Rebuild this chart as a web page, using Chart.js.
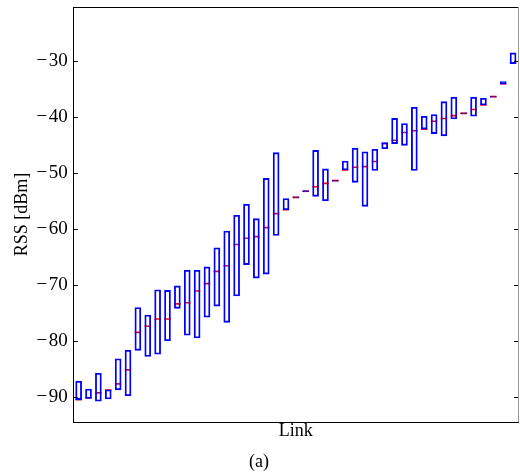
<!DOCTYPE html>
<html>
<head>
<meta charset="utf-8">
<script src="https://cdn.jsdelivr.net/npm/chart.js@4"></script>
<style>
  body { margin: 0; background: #fff; }
  canvas { display: block; }
</style>
</head>
<body>
<canvas id="myChart" width="520" height="474"></canvas>
<script>
// box data per link: upper quartile, median, lower quartile (dBm)
const links = [];
for (let i = 1; i <= 45; i++) links.push(String(i));

const q3 = [-87.2, -88.6, -85.8, -88.75, -83.2, -81.7, -74.05, -75.4, -70.9, -71.0,
            -70.2, -67.4, -67.4, -66.8, -63.4, -60.4, -57.6, -55.6, -58.2, -51.0,
            -46.4, -54.6, -54.3, -53.2, -46.0, -49.3, -51.3, -47.9, -45.6, -46.25,
            -45.8, -44.6, -40.3, -41.2, -38.3, -39.9, -39.6, -37.3, -36.5, -39.3,
            -36.5, -36.7, -36.3, -33.7, -28.6];
const med = [-90.5, -90.2, -89.3, -88.8, -87.7, -85.2, -78.5, -77.4, -76.1, -76.1,
             -73.4, -73.2, -71.1, -69.8, -67.6, -66.6, -62.8, -61.7, -61.4, -59.8,
             -57.3, -56.6, -54.4, -53.3, -52.5, -51.9, -51.4, -49.5, -49.0, -48.9,
             -48.0, -44.8, -44.2, -42.8, -42.5, -42.2, -40.8, -40.3, -39.8, -39.4,
             -38.7, -37.9, -36.4, -34.1, -30.4];
const q1 = [-90.5, -90.3, -90.8, -90.4, -88.75, -89.8, -81.7, -82.8, -82.4, -80.0,
            -74.2, -79.0, -79.5, -75.8, -73.8, -76.7, -72.0, -66.4, -68.8, -68.1,
            -61.2, -56.6, -54.5, -53.4, -54.2, -55.0, -51.5, -49.5, -51.7, -56.0,
            -49.6, -45.7, -44.8, -45.1, -49.6, -42.2, -43.0, -43.4, -40.4, -39.5,
            -39.9, -37.9, -36.5, -34.2, -30.5];
const yTicks = [-90, -80, -70, -60, -50, -40, -30];

const serif = 'Liberation Serif';

// frame on top/right and inward tick marks
const frame = {
  id: 'frame',
  afterDatasetsDraw(chart) {
    const ctx = chart.ctx, a = chart.chartArea, y = chart.scales.y;
    ctx.save();
    ctx.lineWidth = 1;
    ctx.strokeStyle = '#000';
    ctx.beginPath();
    ctx.moveTo(a.left, a.top + 0.5);
    ctx.lineTo(a.right, a.top + 0.5);
    y.ticks.forEach(t => {
      const py = Math.round(y.getPixelForValue(t.value)) + 0.5;
      ctx.moveTo(a.left, py);
      ctx.lineTo(a.left + 4, py);
      ctx.moveTo(a.right, py);
      ctx.lineTo(a.right - 4, py);
    });
    ctx.stroke();
    ctx.strokeStyle = '#999';
    ctx.beginPath();
    ctx.moveTo(a.right + 0.5, a.top);
    ctx.lineTo(a.right + 0.5, a.bottom);
    ctx.stroke();
    ctx.restore();
  }
};

new Chart('myChart', {
  data: {
    labels: links,
    datasets: [{
      type: 'bar',
      data: q1.map((v, i) => [v, q3[i]]),
      backgroundColor: 'rgba(0,0,0,0)',
      borderColor: '#0000ff',
      borderWidth: 1.2,
      borderSkipped: false,
      barThickness: 6
    }, {
      type: 'line',
      data: med,
      showLine: false,
      pointStyle: 'line',
      pointRadius: 3.2,
      pointBorderWidth: 1.6,
      borderColor: '#ff0000',
      backgroundColor: '#ff0000'
    }]
  },
  options: {
    responsive: false,
    animation: false,
    layout: { autoPadding: false, padding: { top: 7, right: 2, left: 0, bottom: 0 } },
    plugins: {
      legend: { display: false },
      tooltip: { enabled: false },
      title: {
        display: true,
        position: 'bottom',
        text: '(a)',
        color: '#000',
        font: { family: serif, size: 18, weight: 'normal' },
        padding: { top: 9.4, bottom: 1 }
      }
    },
    scales: {
      x: {
        grid: { display: false, drawTicks: false },
        border: { color: '#000', width: 1 },
        ticks: { display: false },
        title: { display: true, text: 'Link', color: '#000', font: { family: serif, size: 18 }, padding: 0 },
        afterFit: s => { s.height = 20; s.paddingLeft = 0; s.paddingRight = 0; }
      },
      y: {
        min: -94.5,
        max: -20.4,
        afterBuildTicks: s => { s.ticks = yTicks.map(v => ({ value: v })); },
        grid: { display: false, drawTicks: false },
        border: { color: '#000', width: 1 },
        ticks: {
          color: '#000',
          padding: 6,
          font: { family: serif, size: 19 },
          callback: v => '\u2212\u200A' + Math.abs(v)
        },
        title: { display: true, text: 'RSS [dBm]', color: '#000', font: { family: serif, size: 18 }, padding: 11 },
        afterFit: s => { s.width = 73.7; s.paddingTop = 0; s.paddingBottom = 0; }
      }
    }
  },
  plugins: [frame]
});
</script>
</body>
</html>
